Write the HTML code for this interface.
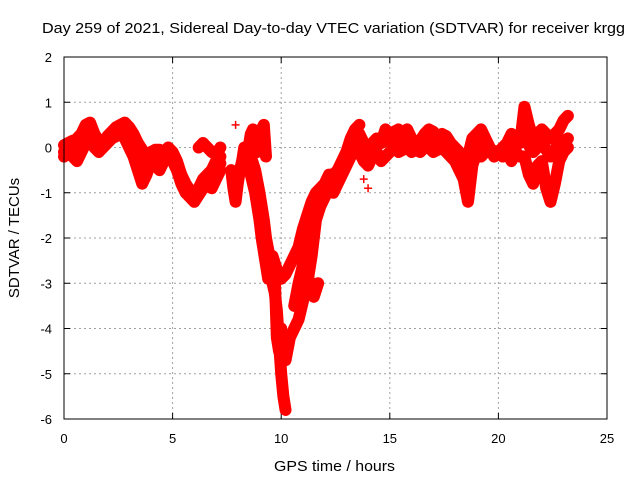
<!DOCTYPE html>
<html><head><meta charset="utf-8"><style>
body{margin:0;background:#fff}
svg{display:block;font-family:"Liberation Sans",sans-serif}
</style></head><body>
<svg id="chart" width="640" height="480">
<text x="42" y="33" font-size="15" textLength="583" lengthAdjust="spacingAndGlyphs">Day 259 of 2021, Sidereal Day-to-day VTEC variation (SDTVAR) for receiver krgg</text>
<text x="274" y="471" font-size="15" textLength="121" lengthAdjust="spacingAndGlyphs">GPS time / hours</text>
<text transform="translate(19,238) rotate(-90)" text-anchor="middle" font-size="15">SDTVAR / TECUs</text>
<g id="grid"></g><g id="ticks"></g><g id="marks"></g>
<rect x="64" y="57" width="543" height="362" fill="none" stroke="#000" stroke-width="1"/>
</svg>
<script>
const xTicks=[0,5,10,15,20,25];
const yTicks=[2,1,0,-1,-2,-3,-4,-5,-6];
const trackA=[[0,-0.1],[0.2,0.1],[0.4,0.0],[0.6,0.2],[0.8,0.3],[1.0,0.5],[1.2,0.55],[1.4,0.3],[1.6,0.15],[1.8,0.1],[2.0,0.25],[2.2,0.35],[2.4,0.45],[2.6,0.5],[2.8,0.55],[3.0,0.45],[3.2,0.3],[3.4,0.1],[3.6,-0.05],[3.8,-0.2],[4.0,-0.1],[4.2,-0.05],[4.4,-0.05],[4.6,-0.1],[4.8,0.0],[5.0,-0.1],[5.2,-0.3],[5.4,-0.6],[5.6,-0.8],[5.8,-0.95],[6.0,-1.0],[6.2,-0.9],[6.4,-0.7],[6.6,-0.6],[6.8,-0.5],[7.0,-0.3],[7.2,-0.2]];
const trackB=[[0,-0.2],[0.2,-0.1],[0.4,-0.2],[0.6,-0.3],[0.8,-0.1],[1.0,0.1],[1.2,0.2],[1.4,0.0],[1.6,-0.1],[1.8,0.0],[2.0,0.1],[2.2,0.2],[2.4,0.25],[2.6,0.3],[2.8,0.2],[3.0,0.0],[3.2,-0.2],[3.4,-0.5],[3.6,-0.8],[3.8,-0.6],[4.0,-0.3],[4.2,-0.4],[4.4,-0.5],[4.6,-0.3],[4.8,-0.2],[5.0,-0.3],[5.2,-0.5],[5.4,-0.8],[5.6,-1.0],[5.8,-1.1],[6.0,-1.2],[6.2,-1.05],[6.4,-0.9],[6.6,-0.85],[6.8,-0.9],[7.0,-0.7],[7.2,-0.5]];
const trackK=[[0,0.05],[0.4,0.15],[0.8,0.15],[1.2,0.35],[1.6,0.05],[2.0,0.2],[2.4,0.35],[2.8,0.4],[3.2,0.1],[3.6,-0.3],[4.0,-0.2],[4.4,-0.3],[4.8,-0.1],[5.2,-0.4],[5.6,-0.9],[6.0,-1.1],[6.4,-0.8],[6.8,-0.7],[7.2,-0.35]];
const trackC=[[6.2,0.0],[6.4,0.1],[6.6,0.0],[6.8,-0.1],[7.0,-0.15],[7.2,0.0]];
const trackD=[[7.7,-0.5],[7.8,-0.9],[7.9,-1.2],[8.0,-0.8],[8.1,-0.5],[8.2,-0.3],[8.3,0.0],[8.4,-0.2],[8.5,-0.4],[8.6,-0.6],[8.7,-0.8],[8.8,-1.0],[8.9,-1.3],[9.0,-1.6],[9.1,-2.0],[9.2,-2.3],[9.3,-2.6],[9.4,-2.9],[9.5,-2.8],[9.6,-3.0],[9.7,-3.2],[9.8,-3.6],[9.9,-4.3],[10.0,-5.0],[10.1,-5.5],[10.2,-5.8]];
const trackL=[[8.6,-0.2],[8.8,-0.5],[9.0,-1.0],[9.2,-1.6],[9.3,-2.0],[9.5,-2.5],[9.7,-2.8],[9.8,-4.2],[9.9,-4.5],[10.0,-4.0]];
const trackE=[[8.5,0.0],[8.6,0.3],[8.7,0.4],[8.8,0.1],[8.9,-0.1],[9.0,0.2],[9.1,0.4],[9.2,0.5],[9.3,-0.2]];
const trackF=[[9.6,-2.4],[9.8,-2.7],[10.0,-2.9],[10.2,-2.8],[10.4,-2.6],[10.6,-2.4],[10.8,-2.2],[11.0,-1.8],[11.2,-1.5],[11.4,-1.2],[11.6,-1.0],[11.8,-0.9],[12.0,-0.8],[12.2,-0.6],[12.4,-0.6],[12.6,-0.5],[12.8,-0.3],[13.0,-0.1],[13.2,0.2],[13.4,0.4],[13.6,0.5]];
const trackG=[[9.8,-4.0],[10.0,-4.3],[10.2,-4.7],[10.4,-4.2],[10.6,-4.0],[10.8,-3.8],[11.0,-3.4],[11.2,-3.0],[11.4,-2.4],[11.6,-1.6],[11.8,-1.3],[12.0,-1.1],[12.2,-0.9],[12.4,-1.0],[12.6,-0.8],[12.8,-0.6],[13.0,-0.4],[13.2,-0.2],[13.4,0.0]];
const trackH=[[10.9,-2.0],[11.1,-2.5],[11.3,-3.0],[11.5,-3.3],[11.7,-3.0]];
const trackM=[[10.6,-3.5],[10.8,-3.0],[11.0,-2.6],[11.2,-2.2],[11.4,-1.8],[11.6,-1.4],[11.8,-1.1]];
const trackI=[[13.6,0.3],[13.8,0.1],[14.0,0.0],[14.2,0.1],[14.4,0.2],[14.6,0.1],[14.8,0.4],[15.0,0.3],[15.2,0.35],[15.4,0.4],[15.6,0.3],[15.8,0.4],[16.0,0.2],[16.2,0.1],[16.4,0.15],[16.6,0.3],[16.8,0.4],[17.0,0.35],[17.2,0.2],[17.4,0.3],[17.6,0.25],[17.8,0.1],[18.0,0.0],[18.2,-0.1],[18.4,-0.5],[18.6,-0.2],[18.8,0.2],[19.0,0.3],[19.2,0.4],[19.4,0.2],[19.6,0.0],[19.8,-0.2],[20.0,-0.1],[20.2,0.0],[20.4,0.1],[20.6,0.3],[20.8,0.2],[21.0,0.1],[21.2,0.9],[21.4,0.5],[21.6,0.2],[21.8,0.3],[22.0,0.4],[22.2,0.3],[22.4,0.2],[22.6,0.3],[22.8,0.4],[23.0,0.6],[23.2,0.7]];
const trackN=[[13.6,0.1],[14.0,-0.1],[14.4,0.05],[14.8,0.15],[15.2,0.2],[15.6,0.15],[16.0,0.05],[16.4,0.05],[16.8,0.2],[17.2,0.1],[17.6,0.1],[18.0,-0.1],[18.4,-0.3],[18.8,0.0],[19.2,0.1],[19.6,-0.05],[20.0,-0.1],[20.4,0.0],[20.8,0.1],[21.2,0.2],[21.6,-0.1],[22.0,0.1],[22.4,-0.2],[22.8,0.1],[23.2,0.2]];
const trackJ=[[13.6,-0.1],[13.8,-0.3],[14.0,-0.4],[14.2,-0.2],[14.4,-0.1],[14.6,-0.3],[14.8,-0.2],[15.0,-0.1],[15.2,0.0],[15.4,-0.1],[15.6,-0.05],[15.8,0.0],[16.0,-0.1],[16.2,-0.05],[16.4,-0.1],[16.6,0.0],[16.8,0.0],[17.0,-0.1],[17.2,-0.05],[17.4,0.0],[17.6,-0.1],[17.8,-0.2],[18.0,-0.3],[18.2,-0.5],[18.4,-0.7],[18.6,-1.2],[18.8,-0.4],[19.0,-0.1],[19.2,-0.2],[19.4,-0.1],[19.6,-0.1],[19.8,-0.1],[20.0,-0.1],[20.2,-0.2],[20.4,-0.1],[20.6,-0.3],[20.8,-0.1],[21.0,-0.2],[21.2,-0.2],[21.4,-0.6],[21.6,-0.8],[21.8,-0.4],[22.0,-0.3],[22.2,-0.9],[22.4,-1.2],[22.6,-0.8],[22.8,-0.3],[23.0,-0.1],[23.2,0.0]];
const strays=[[7.9,0.5],[13.8,-0.7],[14.0,-0.9],[18.5,-1.2]];
const tracks=[trackA,trackB,trackK,trackC,trackD,trackL,trackE,trackF,trackG,trackH,trackM,trackI,trackN,trackJ];

const NS="http://www.w3.org/2000/svg";
const X0=64,X1=607,Y0=419,Y1=57;
function sx(t){return X0+(t-0)/(25-0)*(X1-X0);}
function sy(v){return Y0-(v+6)/(2+6)*(Y0-Y1);}
function mk(tag,attrs,parent){const e=document.createElementNS(NS,tag);for(const k in attrs)e.setAttribute(k,attrs[k]);parent.appendChild(e);return e;}
const grid=document.getElementById('grid'),ticks=document.getElementById('ticks'),marks=document.getElementById('marks');
xTicks.forEach(t=>{
  const x=sx(t);
  if(t>0&&t<25){const g=mk('line',{x1:x,x2:x,y1:Y1,y2:Y0,stroke:'#a0a0a0','stroke-dasharray':'2,3'},grid);
  
  }
  mk('line',{x1:x,x2:x,y1:Y0,y2:Y0-6,stroke:'#000'},ticks);
  mk('line',{x1:x,x2:x,y1:Y1,y2:Y1+6,stroke:'#000'},ticks);
  const l=mk('text',{x:x,y:443,'text-anchor':'middle','font-size':'13'},ticks);
  l.textContent=t;
  
  
});
yTicks.forEach(v=>{
  const y=sy(v);
  if(v<2&&v>-6){const g=mk('line',{x1:X0,x2:X1,y1:y,y2:y,stroke:'#a0a0a0','stroke-dasharray':'2,3'},grid);
  
  }
  mk('line',{x1:X0,x2:X0+6,y1:y,y2:y,stroke:'#000'},ticks);
  mk('line',{x1:X1,x2:X1-6,y1:y,y2:y,stroke:'#000'},ticks);
  const l=mk('text',{x:52,y:y+5,'text-anchor':'end','font-size':'13'},ticks);
  l.textContent=v;
  
  
});
function plus(t,v){
  const x=sx(t),y=sy(v);
  const p=mk('path',{d:`M${x-4},${y}H${x+4}M${x},${y-4}V${y+4}`,stroke:'#f00','stroke-width':'1.5',fill:'none'},marks);
  
  
}
tracks.forEach(tr=>{
  const pl=mk('polyline',{points:tr.map(p=>sx(p[0])+','+sy(p[1])).join(' '),stroke:'#f00','stroke-width':'12',fill:'none','stroke-linejoin':'round','stroke-linecap':'round'},marks);
  
  
  tr.forEach(p=>plus(p[0],p[1]));
});
strays.forEach(p=>plus(p[0],p[1]));
</script>
</body></html>
